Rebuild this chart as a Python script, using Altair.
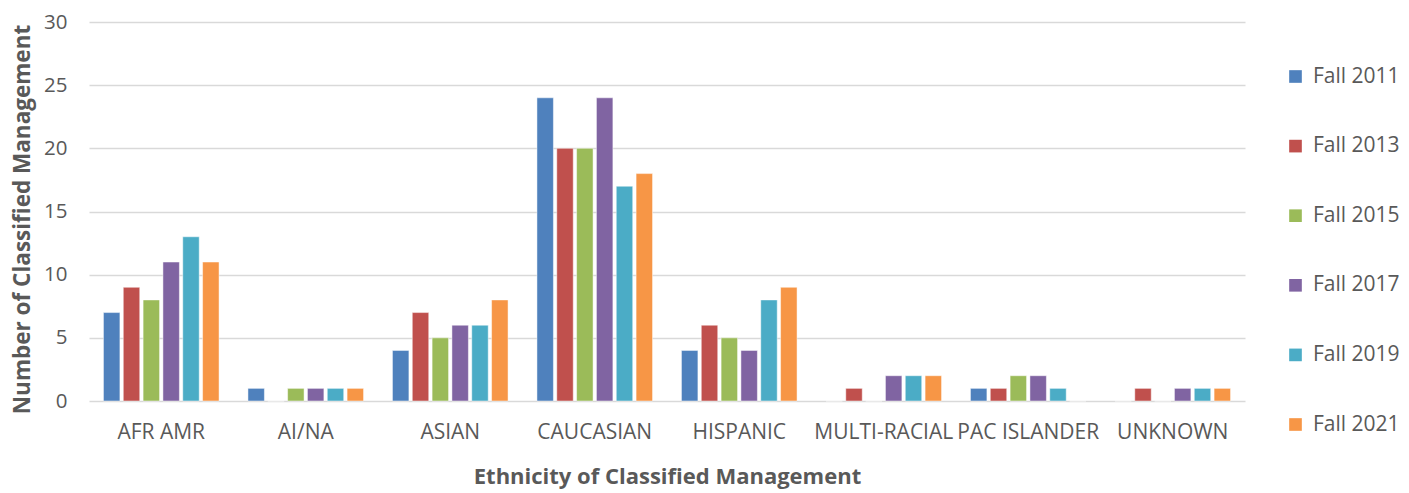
import altair as alt
import pandas as pd

categories = ["AFR AMR", "AI/NA", "ASIAN", "CAUCASIAN", "HISPANIC",
              "MULTI-RACIAL", "PAC ISLANDER", "UNKNOWN"]
series_names = ["Fall 2011", "Fall 2013", "Fall 2015", "Fall 2017", "Fall 2019", "Fall 2021"]
fall_2011 = [7, 1, 4, 24, 4, 0, 1, 0]
fall_2013 = [9, 0, 7, 20, 6, 1, 1, 1]
fall_2015 = [8, 1, 5, 20, 5, 0, 2, 0]
fall_2017 = [11, 1, 6, 24, 4, 2, 2, 1]
fall_2019 = [13, 1, 6, 17, 8, 2, 1, 1]
fall_2021 = [11, 1, 8, 18, 9, 2, 0, 1]
colors = ["#4F81BD", "#C0504D", "#9BBB59", "#8064A2", "#4BACC6", "#F79646"]

all_series = [fall_2011, fall_2013, fall_2015, fall_2017, fall_2019, fall_2021]
rows = []
for name, vals in zip(series_names, all_series):
    for cat, v in zip(categories, vals):
        rows.append({"Ethnicity": cat, "Year": name, "Count": v})
df = pd.DataFrame(rows)

FONT = "Open Sans"
GRAY = "#595959"

chart = alt.Chart(df).mark_bar(stroke="white", strokeWidth=0.6, strokeOpacity=0.8).encode(
    x=alt.X("Ethnicity:N", sort=categories,
            scale=alt.Scale(paddingInner=0.2, paddingOuter=0.1),
            axis=alt.Axis(title="Ethnicity of Classified Management", labelAngle=0,
                          labelPadding=20, titlePadding=24, domain=False, ticks=False,
                          labelFontSize=21, titleFontSize=22, titleFontWeight="bold",
                          labelColor=GRAY, titleColor=GRAY, labelFont=FONT, titleFont=FONT)),
    xOffset=alt.XOffset("Year:N", sort=series_names,
                        scale=alt.Scale(paddingInner=0.17, paddingOuter=0)),
    y=alt.Y("Count:Q", scale=alt.Scale(domain=[0, 30]),
            axis=alt.Axis(title="Number of Classified Management", values=[0, 5, 10, 15, 20, 25, 30],
                          labelPadding=22, domain=False, ticks=False,
                          gridColor="#D9D9D9", gridWidth=1.3,
                          labelFontSize=20.5, titleFontSize=22.5, titleFontWeight="bold",
                          labelColor=GRAY, titleColor=GRAY, labelFont=FONT, titleFont=FONT,
                          titleX=-55, titleY=197)),
    color=alt.Color("Year:N", sort=series_names,
                    scale=alt.Scale(domain=series_names, range=colors),
                    legend=alt.Legend(title=None, orient="none", legendX=1196, legendY=44,
                                      symbolType="square", symbolSize=160, symbolStrokeWidth=0,
                                      labelFontSize=21, labelFont=FONT, labelColor=GRAY,
                                      rowPadding=47.6, labelOffset=7)),
).properties(
    width=1156, height=379,
    autosize=alt.AutoSizeParams(type="none"),
    padding={"left": 81, "top": 14, "right": 156, "bottom": 92},
).configure_view(stroke=None).configure_axisY(grid=True)

chart.save("out.html", embed_options={"renderer": "svg", "actions": False})
